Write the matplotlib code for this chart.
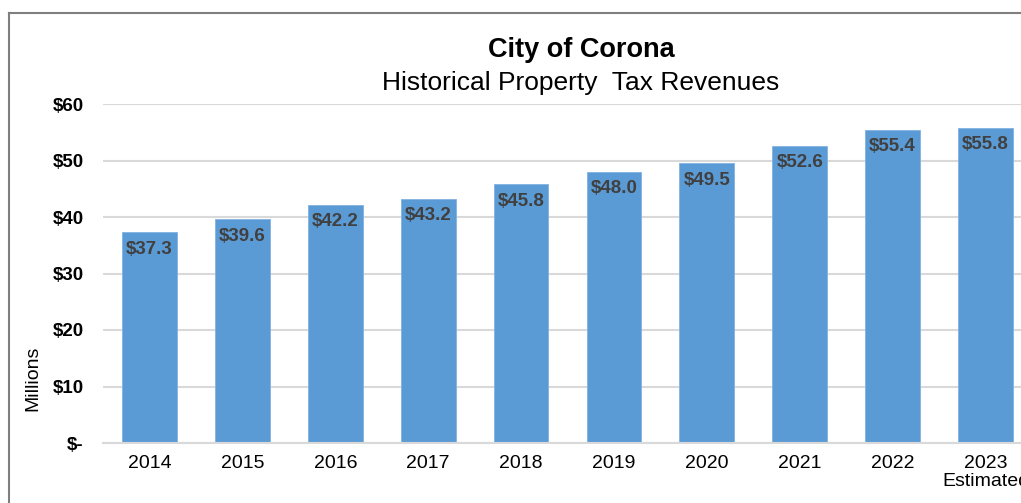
import matplotlib.pyplot as plt
from matplotlib.lines import Line2D

plt.rcParams['font.family'] = ['Liberation Sans', 'DejaVu Sans']

years = ['2014', '2015', '2016', '2017', '2018', '2019', '2020', '2021', '2022', '2023\nEstimated']
revenues = [37.3, 39.6, 42.2, 43.2, 45.8, 48.0, 49.5, 52.6, 55.4, 55.8]
yticks = [0, 10, 20, 30, 40, 50, 60]
ytick_labels = ['$-', '$10', '$20', '$30', '$40', '$50', '$60']

W, H = 1021, 503
fig = plt.figure(figsize=(W / 100, H / 100), dpi=100)
ax = fig.add_axes([103 / W, 60 / H, 929 / W, 339 / H])

x = list(range(len(years)))
bars = ax.bar(x, revenues, width=0.59, color='#5B9BD5', edgecolor='#7FB2E0', linewidth=0.6, zorder=2)
for rect, v in zip(bars, revenues):
    ax.annotate('$%.1f' % v, (rect.get_x() + rect.get_width() / 2, v),
                xytext=(0, -6), textcoords='offset points', ha='center', va='top',
                fontsize=13.5, fontweight='bold', color='#404040', zorder=3)

ax.set_xlim(-0.5, len(years) - 0.5)
ax.set_ylim(0, 60)
ax.set_yticks(yticks)
ax.set_yticklabels(ytick_labels, fontsize=13.5, fontweight='bold')
ax.set_xticks(x)
ax.set_xticklabels(years, fontsize=14, linespacing=1.0)
ax.tick_params(axis='both', length=0, colors='#000000')
ax.tick_params(axis='y', pad=14)
ax.tick_params(axis='x', pad=9)
ax.grid(axis='y', color='#D9D9D9', linewidth=1.5, zorder=0)
for s in ['top', 'right', 'left']:
    ax.spines[s].set_visible(False)
ax.spines['bottom'].set_color('#D9D9D9')
ax.spines['bottom'].set_linewidth(1.5)

fig.text(33 / W, 1 - 378 / H, 'Millions', rotation=90, ha='center', va='center', fontsize=14)
fig.text(581 / W, 1 - 50 / H, 'City of Corona', ha='center', va='center', fontsize=19.5, fontweight='bold')
fig.text(581 / W, 1 - 83 / H, 'Historical Property  Tax Revenues', ha='center', va='center', fontsize=19)

# chart border (cropped on right and bottom)
fig.add_artist(Line2D([9 / W, 9 / W], [0, 1 - 13 / H], color='#7F7F7F', linewidth=1.5))
fig.add_artist(Line2D([9 / W, 1], [1 - 13 / H, 1 - 13 / H], color='#7F7F7F', linewidth=1.5))

fig.savefig('out.png', dpi=100)
